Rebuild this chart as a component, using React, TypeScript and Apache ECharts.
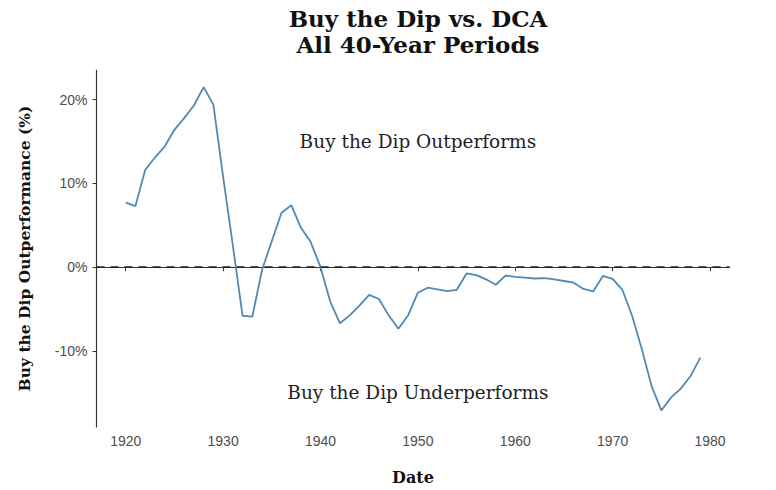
import React, { useEffect, useRef } from "react";
import * as echarts from "echarts";

const years: number[] = [
  1920, 1921, 1922, 1923, 1924, 1925, 1926, 1927, 1928, 1929,
  1930, 1931, 1932, 1933, 1934, 1935, 1936, 1937, 1938, 1939,
  1940, 1941, 1942, 1943, 1944, 1945, 1946, 1947, 1948, 1949,
  1950, 1951, 1952, 1953, 1954, 1955, 1956, 1957, 1958, 1959,
  1960, 1961, 1962, 1963, 1964, 1965, 1966, 1967, 1968, 1969,
  1970, 1971, 1972, 1973, 1974, 1975, 1976, 1977, 1978, 1979,
];

const outperformance: number[] = [
  7.7, 7.3, 11.6, 13.1, 14.4, 16.4, 17.8, 19.3, 21.5, 19.4,
  10.8, 2.6, -5.8, -5.9, -0.3, 3.1, 6.5, 7.4, 4.7, 3.0,
  0.0, -4.1, -6.7, -5.75, -4.6, -3.3, -3.8, -5.75, -7.35, -5.75,
  -3.05, -2.45, -2.65, -2.85, -2.7, -0.75, -0.95, -1.45, -2.1, -1.0,
  -1.15, -1.25, -1.35, -1.3, -1.45, -1.65, -1.85, -2.6, -2.9, -1.05,
  -1.4, -2.7, -5.8, -9.8, -14.2, -17.1, -15.55, -14.5, -13.0, -10.8,
];

const xTicks: number[] = [1920, 1930, 1940, 1950, 1960, 1970, 1980];
const yTicks: number[] = [-10, 0, 10, 20];

const annotations: { text: string; year: number; value: number }[] = [
  { text: "Buy the Dip Outperforms", year: 1950, value: 15 },
  { text: "Buy the Dip Underperforms", year: 1950, value: -15 },
];

const titleLines: string[] = ["Buy the Dip vs. DCA", "All 40-Year Periods"];
const yAxisName = "Buy the Dip Outperformance (%)";
const xAxisName = "Date";

const serif = "'DejaVu Serif', 'Liberation Serif', serif";
const sans = "'Liberation Sans', Arial, sans-serif";

export default function App() {
  const ref = useRef<HTMLDivElement>(null);
  useEffect(() => {
    if (!ref.current) return;
    const chart = echarts.init(ref.current, undefined, { renderer: "svg" });
    chart.setOption({
      animation: false,
      backgroundColor: "#ffffff",
      title: {
        text: titleLines.join("\n"),
        left: 413,
        textAlign: "center",
        top: 0,
        textStyle: {
          fontFamily: serif,
          fontWeight: "bold",
          fontSize: 23,
          lineHeight: 26,
          color: "#111111",
        },
      },
      grid: { left: 96.5, right: 46.5, top: 70, bottom: 62, containLabel: false },
      xAxis: {
        type: "value",
        min: 1917,
        max: 1982,
        interval: 10,
        name: xAxisName,
        nameLocation: "middle",
        nameGap: 42,
        nameTextStyle: { fontFamily: serif, fontWeight: "bold", fontSize: 16, color: "#111" },
        axisLine: { show: true, lineStyle: { color: "#333", width: 1.2 } },
        axisTick: {
          show: true,
          length: 4,
          lineStyle: { color: "#333" },
          customValues: xTicks,
        },
        axisLabel: {
          fontFamily: sans,
          fontSize: 14,
          color: "#4d4d4d",
          margin: 7,
          customValues: xTicks,
          formatter: (v: number) => String(v),
        },
        splitLine: { show: false },
      },
      yAxis: {
        type: "value",
        min: -19.08,
        max: 23.54,
        name: yAxisName,
        nameLocation: "middle",
        nameGap: 64,
        nameRotate: 90,
        nameTextStyle: { fontFamily: serif, fontWeight: "bold", fontSize: 15.5, color: "#111" },
        axisLine: { show: true, lineStyle: { color: "#333", width: 1.2 } },
        axisTick: {
          show: true,
          length: 4,
          lineStyle: { color: "#333" },
          customValues: yTicks,
        },
        axisLabel: {
          fontFamily: sans,
          fontSize: 14,
          color: "#4d4d4d",
          margin: 9,
          customValues: yTicks,
          formatter: (v: number) => `${Math.round(v)}%`,
        },
        splitLine: { show: false },
      },
      series: [
        {
          type: "line",
          data: years.map((y, i) => [y, outperformance[i]]),
          showSymbol: false,
          symbol: "none",
          lineStyle: { color: "#5289b2", width: 1.8 },
          markLine: {
            silent: true,
            symbol: "none",
            label: { show: false },
            lineStyle: { color: "#222", type: [8, 6], width: 1.6 },
            data: [[{ coord: [1917, 0] }, { coord: [1982, 0] }]],
          },
          markPoint: {
            silent: true,
            symbol: "circle",
            symbolSize: 0,
            label: {
              show: true,
              position: "inside",
              fontFamily: serif,
              fontSize: 18.5,
              color: "#222",
              formatter: (p: any) => p.name,
            },
            data: annotations.map((a) => ({ name: a.text, coord: [a.year, a.value] })),
          },
        },
      ],
    });
    return () => chart.dispose();
  }, []);
  return (
    <div
      ref={ref}
      style={{ position: "fixed", left: 0, top: 0, width: 776, height: 490 }}
    />
  );
}
